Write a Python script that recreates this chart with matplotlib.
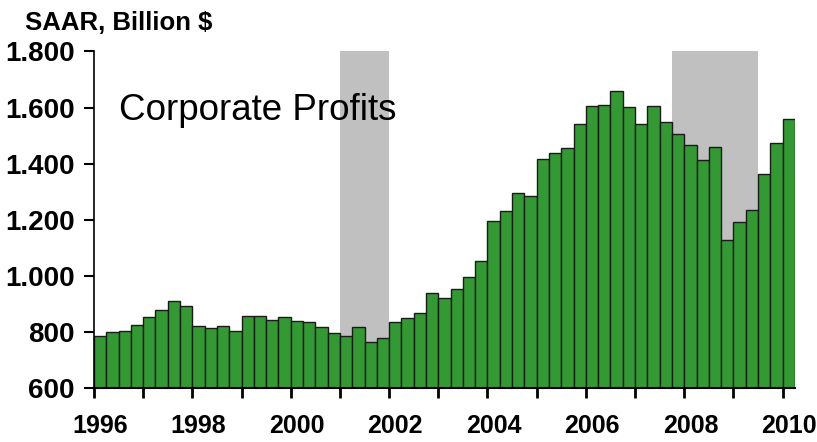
import matplotlib
matplotlib.use("Agg")

import matplotlib.pyplot as plt
from matplotlib.ticker import FixedLocator, FuncFormatter
import numpy as np

plt.rcParams['font.family'] = ['Liberation Sans', 'DejaVu Sans']

# quarterly corporate profits, SAAR, billion $ (1996Q1 .. 2010Q1)
start_year = 1996
profits = [785, 799, 804, 826,
           852, 877, 910, 891,
           821, 813, 821, 804,
           857, 857, 844, 852,
           840, 835, 816, 795,
           785, 816, 763, 780,
           835, 848, 869, 940,
           921, 954, 995, 1053,
           1194, 1232, 1296, 1284,
           1417, 1439, 1457, 1542,
           1605, 1609, 1658, 1602,
           1543, 1606, 1548, 1506,
           1467, 1413, 1458, 1129,
           1191, 1233, 1364, 1472,
           1558]

# recession periods (decimal years)
recessions = [(2001.0, 2002.0), (2007.75, 2009.5)]

year_ticks = list(range(1996, 2011))
label_years = list(range(1996, 2011, 2))
y_ticks = [600, 800, 1000, 1200, 1400, 1600, 1800]

fig = plt.figure(figsize=(8.17, 4.42), dpi=100)
ax = fig.add_axes([0.115, 0.1222, 0.973 - 0.115, 0.8835 - 0.1222])

for r0, r1 in recessions:
    ax.axvspan(r0, r1, color="#c0c0c0", lw=0, zorder=0)

x = start_year + np.arange(len(profits)) * 0.25
ax.bar(x, np.array(profits) - 600, bottom=600, width=0.25, align="edge",
       color="#339933", edgecolor="#1a1a1a", linewidth=1.0, zorder=2)

ax.set_xlim(1996, 2010.25)
ax.set_ylim(600, 1800)

# y axis
ax.set_yticks(y_ticks)
ax.yaxis.set_major_formatter(FuncFormatter(lambda v, p: "{:,.0f}".format(v).replace(",", ".")))
ax.tick_params(axis="y", direction="out", length=7, width=1.5, pad=7,
               labelsize=20)
for lab in ax.get_yticklabels():
    lab.set_fontweight("bold")

# x axis: tick marks every year, labels every second year
ax.xaxis.set_minor_locator(FixedLocator(year_ticks))
ax.xaxis.set_major_locator(FixedLocator([y + 0.125 for y in label_years]))
ax.xaxis.set_major_formatter(FuncFormatter(lambda v, p: str(int(v))))
ax.tick_params(axis="x", which="minor", direction="out", length=7, width=2)
ax.tick_params(axis="x", which="major", length=0, pad=19, labelsize=18)
for lab in ax.get_xticklabels():
    lab.set_fontweight("bold")

for side in ["top", "right"]:
    ax.spines[side].set_visible(False)
ax.spines["left"].set_linewidth(1.2)
ax.spines["bottom"].set_linewidth(1.5)

fig.text(0.03, 0.948, "SAAR, Billion $", fontsize=18.5, fontweight="bold",
         va="center", ha="left")
ax.text(0.036, 0.825, "Corporate Profits", transform=ax.transAxes,
        fontsize=26.5, va="center", ha="left")

plt.savefig("out.png", dpi=100)
